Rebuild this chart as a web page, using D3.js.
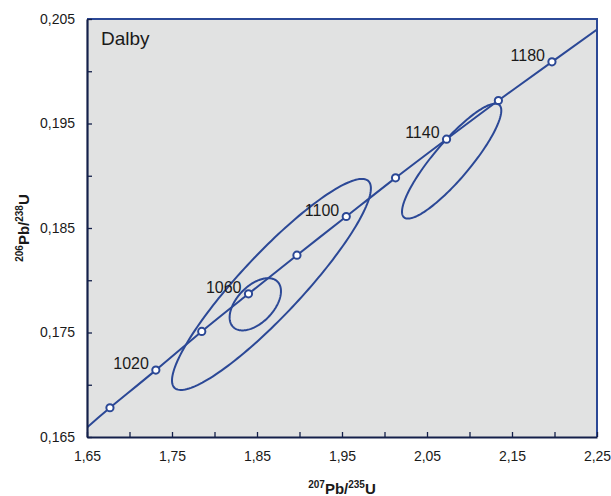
<!DOCTYPE html>
<html>
<head>
<meta charset="utf-8">
<script src="https://cdn.jsdelivr.net/npm/d3@7"></script>
<style>
  body { margin: 0; background: #fff; }
  text { font-family: "Liberation Sans", Arial, sans-serif; fill: #1a1a1a; }
</style>
</head>
<body>
<div id="chart"></div>
<script>
// concordia markers (age in Ma, 207Pb/235U, 206Pb/238U)
var ages = [1000, 1020, 1040, 1060, 1080, 1100, 1120, 1140, 1160, 1180];
var ratio207 = [1.677, 1.731, 1.785, 1.840, 1.897, 1.955, 2.013, 2.073, 2.134, 2.197];
var ratio206 = [0.1678, 0.1714, 0.1751, 0.1787, 0.1824, 0.1861, 0.1898, 0.1935, 0.1972, 0.2009];
var labelledAges = [1020, 1060, 1100, 1140, 1180];

// where the concordia leaves the frame
var lineEnds207 = [1.65, 2.25];
var lineEnds206 = [0.1659, 0.2040];

// error ellipses: centre, half extent in x and y, correlation
var ellCx = [1.867, 1.848, 2.079];
var ellCy = [0.1796, 0.1777, 0.1914];
var ellSx = [0.117, 0.0302, 0.0584];
var ellSy = [0.0101, 0.0025, 0.0055];
var ellRho = [0.91, 0.50, 0.88];

// ticks
var xTicks = [1.65, 1.70, 1.75, 1.80, 1.85, 1.90, 1.95, 2.00, 2.05, 2.10, 2.15, 2.20, 2.25];
var xLabels = [1.65, 1.75, 1.85, 1.95, 2.05, 2.15, 2.25];
var yTicks = [0.165, 0.170, 0.175, 0.180, 0.185, 0.190, 0.195, 0.200, 0.205];
var yLabels = [0.165, 0.175, 0.185, 0.195, 0.205];

var blue = "#2b4896";

var margin = {top: 19, right: 14, bottom: 59, left: 87},
    width = 611 - margin.left - margin.right,
    height = 496 - margin.top - margin.bottom;

var x = d3.scaleLinear().domain([1.65, 2.25]).range([0, width]);
var y = d3.scaleLinear().domain([0.165, 0.205]).range([height, 0]);

var svg = d3.select("#chart").append("svg")
    .attr("width", 611)
    .attr("height", 496);

var g = svg.append("g")
    .attr("transform", "translate(" + margin.left + "," + margin.top + ")");

g.append("rect")
    .attr("width", width)
    .attr("height", height)
    .attr("fill", "#e1e2e2");

g.append("clipPath").attr("id", "clip")
  .append("rect").attr("width", width).attr("height", height);

var plot = g.append("g").attr("clip-path", "url(#clip)");

// concordia curve
var conc = [];
conc.push([lineEnds207[0], lineEnds206[0]]);
ratio207.forEach(function(d, i) { conc.push([d, ratio206[i]]); });
conc.push([lineEnds207[1], lineEnds206[1]]);

plot.append("path")
    .datum(conc)
    .attr("fill", "none")
    .attr("stroke", blue)
    .attr("stroke-width", 2)
    .attr("d", d3.line()
      .x(function(d) { return x(d[0]); })
      .y(function(d) { return y(d[1]); })
      .curve(d3.curveNatural));

// error ellipses
var theta = d3.range(0, 2 * Math.PI, Math.PI / 90);
ellCx.forEach(function(cx, i) {
  var r = ellRho[i], k = Math.sqrt(1 - r * r);
  plot.append("path")
      .datum(theta)
      .attr("fill", "none")
      .attr("stroke", blue)
      .attr("stroke-width", 2)
      .attr("d", d3.line()
        .x(function(t) { return x(cx + ellSx[i] * Math.cos(t)); })
        .y(function(t) { return y(ellCy[i] + ellSy[i] * (r * Math.cos(t) + k * Math.sin(t))); })
        .curve(d3.curveLinearClosed));
});

// markers
plot.selectAll(".marker")
    .data(ages)
  .enter().append("circle")
    .attr("class", "marker")
    .attr("cx", function(d, i) { return x(ratio207[i]); })
    .attr("cy", function(d, i) { return y(ratio206[i]); })
    .attr("r", 3.6)
    .attr("fill", "#fff")
    .attr("stroke", blue)
    .attr("stroke-width", 2);

// age labels
g.selectAll(".age")
    .data(labelledAges)
  .enter().append("text")
    .attr("class", "age")
    .attr("x", function(d) { return x(ratio207[ages.indexOf(d)]) - 7; })
    .attr("y", function(d) { return y(ratio206[ages.indexOf(d)]) - 1; })
    .attr("text-anchor", "end")
    .style("font-size", "16px")
    .text(function(d) { return d; });

// top and right frame
g.append("path")
    .attr("d", "M0,0H" + width + "V" + height)
    .attr("fill", "none")
    .attr("stroke", blue)
    .attr("stroke-width", 2);

// axes
var fx = d3.format(".2f"), fy = d3.format(".3f");
var xAxis = g.append("g")
    .attr("transform", "translate(0," + height + ")")
    .call(d3.axisBottom(x)
      .tickValues(xTicks)
      .tickSizeInner(-5)
      .tickSizeOuter(0)
      .tickPadding(14)
      .tickFormat(function(d) {
        return xLabels.some(function(v) { return Math.abs(v - d) < 1e-9; }) ? fx(d).replace(".", ",") : "";
      }));

var yAxis = g.append("g")
    .call(d3.axisLeft(y)
      .tickValues(yTicks)
      .tickSizeInner(-5)
      .tickSizeOuter(0)
      .tickPadding(12)
      .tickFormat(function(d) {
        return yLabels.some(function(v) { return Math.abs(v - d) < 1e-9; }) ? fy(d).replace(".", ",") : "";
      }));

[xAxis, yAxis].forEach(function(a) {
  a.select(".domain").attr("stroke", "#14204a").attr("stroke-width", 2.2);
  a.selectAll(".tick line").attr("stroke", "#14204a").attr("stroke-width", 1.3);
  a.selectAll(".tick text").style("font-size", "14px").attr("fill", "#1a1a1a")
    .style("font-family", "'Liberation Sans', Arial, sans-serif");
});

// panel name
g.append("text")
    .attr("x", 14)
    .attr("y", 26)
    .style("font-size", "19px")
    .text("Dalby");

// axis titles
var xt = svg.append("text")
    .attr("x", margin.left + width / 2)
    .attr("y", 494)
    .attr("text-anchor", "middle")
    .style("font-size", "15px")
    .style("font-weight", "bold");
xt.append("tspan").attr("dy", "-6").style("font-size", "10px").text("207");
xt.append("tspan").attr("dy", "6").text("Pb/");
xt.append("tspan").attr("dy", "-6").style("font-size", "10px").text("235");
xt.append("tspan").attr("dy", "6").text("U");

var yt = svg.append("text")
    .attr("transform", "translate(29," + (margin.top + height / 2) + ") rotate(-90)")
    .attr("text-anchor", "middle")
    .style("font-size", "15px")
    .style("font-weight", "bold");
yt.append("tspan").attr("dy", "-6").style("font-size", "10px").text("206");
yt.append("tspan").attr("dy", "6").text("Pb/");
yt.append("tspan").attr("dy", "-6").style("font-size", "10px").text("238");
yt.append("tspan").attr("dy", "6").text("U");
</script>
</body>
</html>
